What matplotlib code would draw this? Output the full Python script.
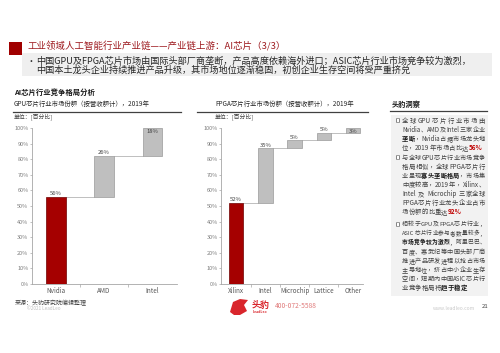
import matplotlib
matplotlib.use('Agg')
import matplotlib.pyplot as plt
from matplotlib.patches import Rectangle, Polygon
from matplotlib.lines import Line2D
from matplotlib.ticker import FuncFormatter
import numpy as np

plt.rcParams['font.family'] = ['Noto Sans CJK SC', 'DejaVu Sans']

# ---------------- data ----------------
gpu_companies = ['Nvidia', 'AMD', 'Intel']
gpu_share = [56, 26, 18]
fpga_companies = ['Xilinx', 'Intel', 'Microchip', 'Lattice', 'Other']
fpga_share = [52, 35, 5, 5, 3]
y_ticks = [0, 10, 20, 30, 40, 50, 60, 70, 80, 90, 100]

title = '工业领域人工智能行业产业链——产业链上游：AI芯片（3/3）'
summary = ['中国GPU及FPGA芯片市场由国际头部厂商垄断，产品高度依赖海外进口；ASIC芯片行业市场竞争较为激烈，',
           '中国本土龙头企业持续推进产品升级，其市场地位逐渐稳固，初创企业生存空间将受严重挤兑']
section_title = 'AI芯片行业竞争格局分析'
gpu_title = 'GPU芯片行业市场份额（按营收额计），2019年'
fpga_title = 'FPGA芯片行业市场份额（按营收额计），2019年'
unit_label = '单位：[百分比]'
insight_title = '头豹洞察'
N, B, R = 'n', 'b', 'r'
insights = [
    [[('全球GPU芯片行业市场由', N)],
     [('Nvidia、AMD及Intel三家企业', N)],
     [('垄断', B), ('，Nvidia占据市场龙头地', N)],
     [('位，2019年市场占比达', N), ('56%', R)]],
    [[('与全球GPU芯片行业市场竞争', N)],
     [('格局相似，全球FPGA芯片行', N)],
     [('业呈现', N), ('寡头垄断格局', B), ('，市场集', N)],
     [('中度较高，2019年，Xilinx、', N)],
     [('Intel 及 Microchip 三家全球', N)],
     [('FPGA芯片行业龙头企业占市', N)],
     [('场份额的比重达', N), ('92%', R)]],
    [[('相较于GPU及FPGA芯片行业，', N)],
     [('ASIC芯片行业参与者数量较多，', N)],
     [('市场竞争较为激烈', B), ('，阿里巴巴、', N)],
     [('百度、寒武纪等中国头部厂商', N)],
     [('推进产品研发进程以抢占市场', N)],
     [('主导地位，挤占中小企业生存', N)],
     [('空间，短期内中国ASIC芯片行', N)],
     [('业竞争格局将', N), ('趋于稳定', B)]],
]
source = '来源：头豹研究院编辑整理'

# ---------------- figure helpers ----------------
W, H = 500, 353
fig = plt.figure(figsize=(5, 3.53), dpi=100)
fig.patch.set_facecolor('white')


def ftext(x, y, s, **kw):
    kw.setdefault('va', 'center')
    return fig.text(x / W, 1 - y / H, s, **kw)


def frect(x0, y0, x1, y1, **kw):
    fig.patches.append(Rectangle((x0 / W, 1 - y1 / H), (x1 - x0) / W, (y1 - y0) / H,
                                 transform=fig.transFigure, **kw))


def fline(x0, x1, y, **kw):
    fig.add_artist(Line2D([x0 / W, x1 / W], [1 - y / H, 1 - y / H], transform=fig.transFigure, **kw))


renderer = fig.canvas.get_renderer()


def tokens(segs):
    out = []
    for text, style in segs:
        buf = ''
        for ch in text:
            if ord(ch) < 128 and ch != ' ':
                buf += ch
            else:
                if buf:
                    out.append((buf, style)); buf = ''
                out.append((ch, style))
        if buf:
            out.append((buf, style))
    return out


STYLES = {N: dict(color='#404040', weight='normal'),
          B: dict(color='#1a1a1a', weight='bold'),
          R: dict(color='#c00000', weight='bold')}


def measure(toks, fs):
    ws = []
    for t, st in toks:
        if t == ' ':
            ws.append(fs * 100 / 72 * 0.3)
            continue
        tt = fig.text(0, 0, t, fontsize=fs, **STYLES[st])
        ws.append(tt.get_window_extent(renderer).width)
        tt.remove()
    return ws


def rich_line(x, y, segs, width=None, fs=4.6, gap=0.15, dy=0.33):
    toks = tokens(segs)
    ws = measure(toks, fs)
    if width is not None and len(toks) > 1:
        need = sum(ws) + 0.25 * (len(toks) - 1)
        if need > width:
            fs = fs * width / need
            ws = measure(toks, fs)
        gap = (width - sum(ws)) / (len(toks) - 1)
    em = fs * 100 / 72
    ybase = round(y + dy * em)
    cx = x
    for (t, st), w in zip(toks, ws):
        if t != ' ':
            fig.text(cx / W, (H - ybase) / H, t, fontsize=fs, va='baseline', ha='left', **STYLES[st])
        cx += w + gap


# ---------------- header ----------------
frect(9, 42, 22, 55, color='#a00000', lw=0)
ftext(27, 46.5, title, color='#9e1b20', fontsize=6.8)
frect(22, 53, 492, 76, color='#efefef', lw=0)
ftext(27, 61, '•', color='#262626', fontsize=6.5)
ftext(36, 61, summary[0], color='#262626', fontsize=6.6)
ftext(36, 70, summary[1], color='#262626', fontsize=6.6)

ftext(14, 92.5, section_title, color='#1a1a1a', fontsize=5.3, weight='bold')
ftext(14, 104, gpu_title, color='#262626', fontsize=4.6)
ftext(215, 104, fpga_title, color='#262626', fontsize=4.6)
fline(13, 181, 111.7, color='#404040', lw=0.9)
fline(197, 368, 111.7, color='#404040', lw=0.9)
ftext(14, 116.5, unit_label, color='#404040', fontsize=4.2)
ftext(215, 116.5, unit_label, color='#404040', fontsize=4.2)


# ---------------- waterfall charts ----------------
def waterfall(ax, cats, vals, width, xlim):
    x = np.arange(len(cats))
    vals = np.array(vals, dtype=float)
    bottoms = np.concatenate([[0], np.cumsum(vals)[:-1]])
    tops = bottoms + vals
    face = ['#a50000'] + ['#bfbfbf'] * (len(cats) - 1)
    edge = ['#6e0000'] + ['#9a9a9a'] * (len(cats) - 1)
    ax.bar(x, vals, width, bottom=bottoms, color=face, edgecolor=edge, linewidth=0.5, zorder=3)
    for i in range(len(cats) - 1):
        ax.plot([x[i] + width / 2, x[i + 1] - width / 2], [tops[i], tops[i]],
                color='#bfbfbf', lw=0.7, zorder=2)
    for i, v in enumerate(vals):
        if tops[i] >= 98:
            ax.text(x[i], tops[i] - 0.6, f'{int(v)}%', ha='center', va='top', fontsize=4.2,
                    color='#404040', zorder=4)
        else:
            ax.text(x[i], tops[i] + 0.4, f'{int(v)}%', ha='center', va='bottom', fontsize=4.2,
                    color='#404040', zorder=4)
    ax.set_xlim(*xlim)
    ax.set_ylim(0, 100)
    ax.set_yticks(y_ticks)
    ax.yaxis.set_major_formatter(FuncFormatter(lambda v, p: f'{int(v)}%'))
    ax.set_xticks(x)
    ax.set_xticklabels(cats)
    ax.set_xticks(x[:-1] + 0.5, minor=True)
    for s in ['top', 'right']:
        ax.spines[s].set_visible(False)
    for s in ['left', 'bottom']:
        ax.spines[s].set_color('#a6a6a6')
        ax.spines[s].set_linewidth(0.6)
    ax.tick_params(axis='y', labelsize=4, colors='#a6a6a6', labelcolor='#7f7f7f', length=1.5,
                   width=0.5, pad=0.8)
    ax.tick_params(axis='x', which='major', length=0, labelsize=4.6, labelcolor='#595959', pad=2.5)
    ax.tick_params(axis='x', which='minor', length=1.8, width=0.5, colors='#a6a6a6')
    ax.patch.set_alpha(0)


ax1 = fig.add_axes([31.7 / W, 1 - 284 / H, (176.6 - 31.7) / W, 156 / H])
waterfall(ax1, gpu_companies, gpu_share, 0.4, (-0.5, 2.5))
ax2 = fig.add_axes([221.0 / W, 1 - 284 / H, (363 - 221.0) / W, 156 / H])
waterfall(ax2, fpga_companies, fpga_share, 0.5, (-0.52, 4.34))

# ---------------- insight panel ----------------
ftext(392, 104, insight_title, color='#1a1a1a', fontsize=5.2, weight='bold')
fline(390, 487, 111, color='#404040', lw=0.9)
frect(391, 115, 488, 296, color='#f2f2f2', lw=0)
starts = [120.5, 157.5, 224.5]
for bi, para in enumerate(insights):
    y0 = starts[bi]
    frect(396.3, y0 - 1.6, 399.8, y0 + 1.9, facecolor='#7f7f7f', lw=0)
    frect(395.5, y0 - 2.2, 399.0, y0 + 1.3, facecolor='white', edgecolor='#595959', lw=0.4)
    for li, segs in enumerate(para):
        last = li == len(para) - 1
        rich_line(402, y0 + li * 9.0, segs, width=None if last else 83)

# ---------------- footer ----------------
ftext(15, 302.7, source, color='#404040', fontsize=4.3)
ftext(27, 309, '©2021 LeadLeo', color='#bfbfbf', fontsize=3.3)
fig.patches.append(Polygon([(230 / W, 1 - 312 / H), (233 / W, 1 - 302 / H), (240 / W, 1 - 299 / H),
                            (248 / W, 1 - 300 / H), (244 / W, 1 - 305 / H), (247 / W, 1 - 311 / H),
                            (240 / W, 1 - 315 / H), (234 / W, 1 - 315 / H)],
                           closed=True, transform=fig.transFigure, color='#d9262c', lw=0))
ftext(252, 305, '头豹', color='#d9262c', fontsize=6.5, weight='bold')
ftext(253, 312, 'LeadLeo', color='#d9262c', fontsize=2.5, weight='bold')
ftext(275, 306.5, '400-072-5588', color='#e07a7a', fontsize=4.8)
ftext(433, 308.5, 'www.leadleo.com', color='#c8c8c8', fontsize=3.6)
ftext(482, 306, '21', color='#404040', fontsize=4.3)

fig.savefig('out.png', dpi=100, facecolor='white')
